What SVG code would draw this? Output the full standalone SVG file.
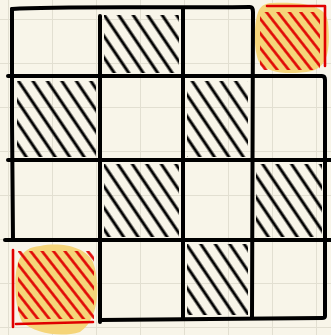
<svg xmlns="http://www.w3.org/2000/svg" width="331" height="335" viewBox="0 0 331 335">
  <defs>
    <pattern id="bggrid" patternUnits="userSpaceOnUse" x="8" y="19" width="44" height="44">
      <path d="M0,0 V44 M0,0 H44" fill="none" stroke="#e2dfd1" stroke-width="2"/>
    </pattern>
    <pattern id="hatchK" patternUnits="userSpaceOnUse" width="12" height="30" patternTransform="rotate(-34)">
      <line x1="6" y1="-1" x2="6" y2="31" stroke="#000" stroke-width="3"/>
    </pattern>
    <pattern id="hatchR" patternUnits="userSpaceOnUse" width="9" height="30" patternTransform="rotate(-38)">
      <line x1="4.5" y1="-1" x2="4.5" y2="31" stroke="#e00000" stroke-width="2.6"/>
    </pattern>
  </defs>
  <style>
    .ln { fill: none; stroke: #000; stroke-width: 4; stroke-linecap: round; stroke-linejoin: round; }
    .rd { fill: none; stroke: #e00000; stroke-width: 2.6; stroke-linecap: round; stroke-linejoin: round; }
    .hk { fill: url(#hatchK); }
    .hr { fill: url(#hatchR); }
    .yl { fill: #f5d57a; }
  </style>
  <rect width="331" height="335" fill="#f8f5e9"/>
  <rect width="331" height="335" fill="url(#bggrid)"/>

  <g id="cell-r0c3">
    <path class="yl" d="M272,3 C300,2 326,4 328,22 C330,44 330,66 312,71 C290,75 268,74 259,62 C253,48 254,20 259,10 C262,5 266,3 272,3 Z"/>
    <rect class="hr" x="260" y="12" width="60" height="58"/>
    <path class="rd" d="M267,6 L325,6 L325,66"/>
  </g>
  <g id="cell-r3c0">
    <path class="yl" d="M40,246 C60,242 85,246 93,262 C101,284 99,320 80,332 C60,338 35,333 22,322 C14,305 14,275 18,262 C23,250 30,247 40,246 Z"/>
    <rect class="hr" x="18" y="251" width="76" height="68"/>
    <path class="rd" d="M13,250 L13,327 M16,324 L93,322"/>
  </g>

  <g id="cell-r0c1"><rect class="hk" x="104" y="15" width="75" height="58"/></g>
  <g id="cell-r1c0"><rect class="hk" x="17" y="81" width="79" height="76"/></g>
  <g id="cell-r1c2"><rect class="hk" x="187" y="81" width="61" height="76"/></g>
  <g id="cell-r2c1"><rect class="hk" x="104" y="164" width="75" height="73"/></g>
  <g id="cell-r2c3"><rect class="hk" x="256" y="164" width="66" height="73"/></g>
  <g id="cell-r3c2"><rect class="hk" x="187" y="244" width="61" height="71"/></g>

  <g id="grid-lines">
    <path class="ln" d="M12,9 C60,6 140,8 250,7 Q253,7 253,12 L252,318"/>
    <path class="ln" d="M12,9 L12,120 L13,240"/>
    <path class="ln" d="M8,76 L322,76 Q325,76 325,80 L325,316 Q325,318 322,318 L100,320"/>
    <path class="ln" d="M8,160 L331,160"/>
    <path class="ln" d="M5,240 L331,240"/>
    <path class="ln" d="M100,16 L100,322"/>
    <path class="ln" d="M183,8 L183,318"/>
  </g>
</svg>
